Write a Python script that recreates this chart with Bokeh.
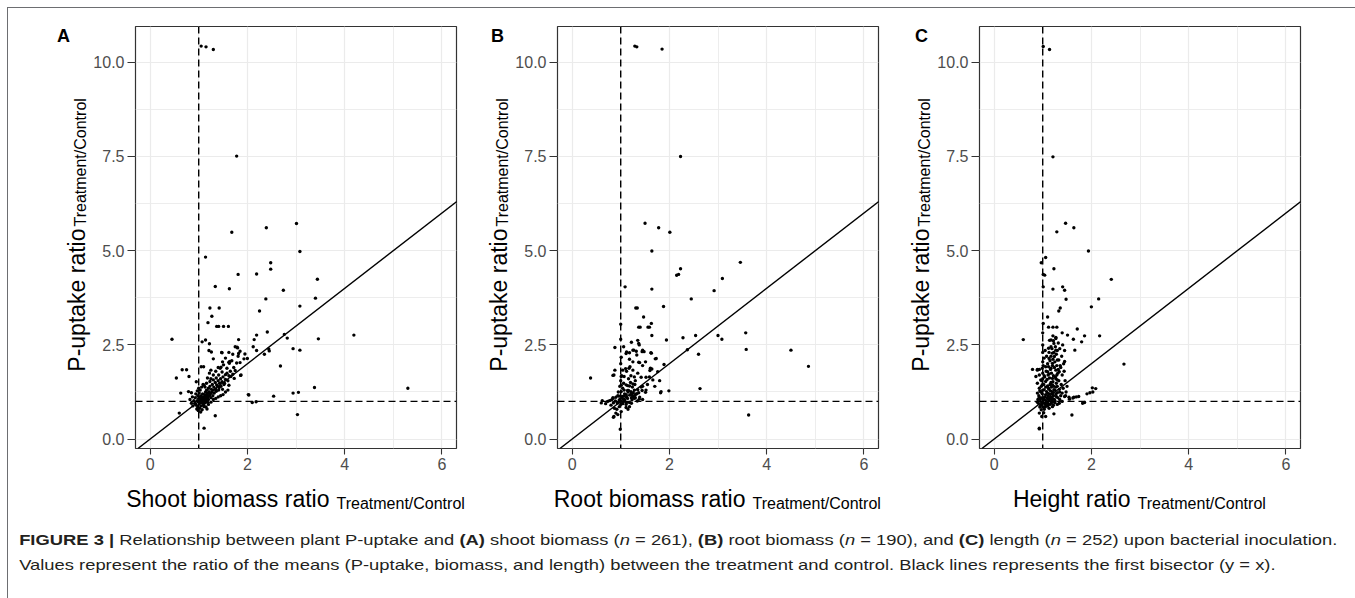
import math
from bokeh.plotting import figure
from bokeh.models import Span, Slope, Label, FixedTicker, Div, Range1d, CustomJSTickFormatter
from bokeh.layouts import row, column
from bokeh.embed import file_html
from bokeh.resources import INLINE

# ---------------- data (ratio Treatment/Control) ----------------
shoot_pts = [
    (1.05,10.43),(1.15,10.41),(1.30,10.34),(1.78,7.51),(1.68,5.49),(2.39,5.61),(3.01,5.72),(3.08,4.98),
    (1.14,4.83),(2.48,4.68),(2.48,4.51),(1.81,4.37),(2.19,4.38),(3.44,4.24),(1.34,4.05),(1.63,3.99),
    (2.74,3.95),(3.40,3.74),(2.38,3.72),(3.08,3.53),(1.23,3.48),(1.42,3.48),(2.25,3.40),(1.27,3.26),
    (1.19,3.09),(1.37,2.99),(1.41,2.99),(1.51,2.99),(1.61,2.99),(2.41,2.84),(2.19,2.76),(4.19,2.76),
    (2.76,2.78),(2.82,2.68),(3.46,2.66),(0.45,2.65),(1.82,2.64),(2.14,2.64),(1.07,2.58),(1.14,2.63),
    (1.22,2.53),(2.12,2.45),(1.80,2.42),(2.94,2.40),(3.08,2.36),(2.44,2.39),(2.19,2.35),(1.21,2.35),
    (1.26,2.31),(1.47,2.30),(1.95,2.26),(1.81,2.20),(2.35,2.25),(1.85,2.33),(1.93,2.13),(1.30,2.13),
    (1.64,2.06),(2.68,1.94),(1.78,2.02),(1.85,2.03),(1.05,1.92),(1.46,1.91),(0.66,1.84),(0.75,1.84),
    (1.86,1.69),(0.54,1.62),(0.80,1.66),(3.38,1.37),(5.30,1.35),(0.63,1.22),(0.79,1.26),(2.03,1.17),
    (2.54,1.14),(2.94,1.22),(3.05,1.24),(2.10,0.97),(2.18,0.99),(0.60,0.69),(3.03,0.65),(1.34,0.62),
    (1.11,0.29),
    (1.48,2.29),(1.79,2.44),(1.82,2.27),(2.00,2.14),(2.45,2.34),(1.49,2.05),(1.62,2.04),(1.68,2.08),
    (1.10,1.92),(1.25,1.83),(1.44,1.88),(1.51,1.97),(1.58,1.88),(1.63,2.01),(1.87,1.70),(1.48,1.78),
    (1.55,1.71),(1.41,1.70),(1.36,1.62),(1.30,1.57),(1.23,1.53),(1.66,1.66),(1.73,1.61),(1.16,1.48),
    (1.11,1.43),(1.37,1.44),(1.42,1.37),(1.53,1.48),(1.62,1.43),(1.49,1.32),(0.95,1.52),(0.85,1.23),
    (2.02,1.18),
    (0.88,0.88),(0.92,0.95),(0.95,0.90),(0.97,1.02),(0.98,0.85),(1.00,1.00),(1.00,1.08),(1.01,0.93),
    (1.02,1.12),(1.03,0.97),(1.04,1.05),(1.05,0.88),(1.05,1.15),(1.06,1.00),(1.07,1.10),(1.08,0.95),
    (1.08,1.20),(1.09,1.04),(1.10,1.12),(1.10,0.90),(1.11,1.00),(1.12,1.18),(1.12,1.07),(1.13,0.96),
    (1.14,1.25),(1.14,1.13),(1.15,1.03),(1.16,1.09),(1.16,1.30),(1.17,1.18),(1.18,0.98),(1.18,1.22),
    (1.19,1.12),(1.20,1.35),(1.20,1.05),(1.21,1.26),(1.22,1.15),(1.23,1.40),(1.24,1.20),(1.25,1.10),
    (1.26,1.32),(1.27,1.24),(1.28,1.45),(1.29,1.15),(1.30,1.30),(1.31,1.38),(1.32,1.22),(1.34,1.50),
    (1.35,1.33),(1.36,1.27),(1.38,1.42),(1.40,1.55),(1.41,1.30),(1.43,1.48),(1.45,1.60),(1.46,1.40),
    (1.48,1.52),(1.50,1.65),(1.52,1.45),(1.55,1.58),(1.58,1.75),(1.60,1.55),(1.62,1.68),(1.65,1.80),
    (1.70,1.72),(1.72,1.90),(1.75,1.82),(0.90,1.02),(0.93,1.10),(0.96,0.80),(0.99,0.76),(1.02,0.82),
    (1.04,0.72),(0.94,1.20),(0.97,1.28),(1.00,1.35),(1.03,1.30),(0.85,0.95),(0.82,1.05),(0.87,1.12),
    (1.06,1.38),(1.09,1.45),(1.13,1.38),(1.15,0.85),(1.20,0.92),(1.25,0.98),(1.30,1.05),(1.35,1.08),
    (1.40,1.12),(1.45,1.15),(1.50,1.18),(1.55,1.25),(1.60,1.30),(1.25,1.60),(1.30,1.70),(1.18,1.62),
    (1.22,1.75),(1.35,1.80),(1.40,1.90),(1.55,2.15),(1.70,2.25),(1.62,2.30),(1.75,2.45),(0.98,1.15),
    (1.01,1.22),(1.07,0.78),(1.11,0.86),(1.17,0.80),
]

root_pts = [
    (1.29,10.43),(1.33,10.41),(1.85,10.35),(2.23,7.50),(1.50,5.73),(1.78,5.61),(2.01,5.49),(1.64,4.99),
    (3.46,4.69),(2.23,4.52),(2.15,4.35),(2.19,4.37),(3.09,4.26),(1.09,4.04),(1.64,3.98),(2.92,3.94),
    (2.45,3.72),(1.88,3.52),(1.31,3.48),(1.34,3.48),(1.47,3.24),(1.63,3.07),(1.37,2.97),(1.40,2.97),
    (1.56,2.97),(1.59,2.97),(1.64,2.75),(2.54,2.75),(3.00,2.75),(3.08,2.65),(3.57,2.82),(2.28,2.69),
    (1.94,2.63),(1.22,2.57),(1.35,2.62),(1.37,2.54),(3.58,2.38),(4.50,2.36),(2.37,2.37),(2.60,2.25),
    (4.86,1.93),(0.38,1.62),(2.63,1.34),(1.99,1.28),(1.82,1.23),(3.63,0.64),(0.99,0.26),(0.86,0.60),
    (0.94,0.65),(0.88,2.43),(1.06,2.45),(1.01,2.17),(1.12,2.31),(1.18,2.29),(1.25,2.36),(1.32,2.33),
    (1.44,2.32),(1.48,2.32),(1.63,2.28),(1.18,2.12),(1.25,2.05),(1.37,2.04),(1.51,2.05),(1.71,2.13),
    (1.89,1.98),(0.88,1.83),(1.10,1.87),(1.12,1.80),(1.19,1.92),(1.25,1.83),(0.84,1.69),(1.02,1.68),
    (1.07,1.66),(1.42,1.64),(1.52,1.64),(1.60,1.82),(1.64,1.86),(1.76,1.79),(1.66,1.57),(1.80,1.55),
    (1.01,1.43),(1.06,1.48),(1.14,1.42),(1.24,1.38),(1.29,1.45),(1.35,1.31),(1.44,1.29),(1.16,1.29),
    (1.45,1.40),(1.51,1.24),(1.22,1.18),(1.29,1.16),(1.33,1.20),(1.11,1.18),(1.06,1.14),(0.97,1.14),
    (0.90,1.11),(0.84,1.10),(0.81,1.04),(0.62,1.02),(0.73,1.00),(0.89,1.01),(0.97,1.04),(1.06,1.06),
    (1.14,1.08),(1.22,1.10),(1.30,1.10),(1.38,1.06),(1.34,1.01),(0.93,0.96),(1.00,0.92),(1.11,0.92),
    (1.18,0.97),(0.92,0.79),(1.01,0.73),(1.15,0.79),
    (1.38,2.50),(1.45,2.36),(1.27,2.36),(1.11,2.27),(1.33,2.23),(1.62,2.29),(1.73,2.14),(1.39,2.03),
    (1.61,1.88),(0.86,1.70),(1.04,1.83),(1.17,1.88),(1.01,1.66),(1.21,1.68),(1.28,1.65),(1.59,1.65),
    (1.11,1.44),(1.18,1.41),(1.25,1.46),(1.42,1.38),(1.52,1.30),(1.83,1.26),(1.04,1.35),(1.01,1.26),
    (1.14,1.29),(1.21,1.26),(1.28,1.30),(1.37,1.23),(0.94,1.15),(1.03,1.13),(1.19,1.17),(1.25,1.13),
    (1.32,1.20),(1.39,1.11),(0.84,1.08),(0.99,1.06),(1.08,1.04),(1.23,1.04),(0.77,1.02),(0.85,0.96),
    (0.94,0.96),(1.04,0.94),(1.12,0.97),(0.60,0.96),(0.69,0.94),(0.87,0.82),(0.97,0.86),(1.11,0.84),
    (1.18,0.86),(0.85,0.58),(0.90,0.69),
    (1.00,1.00),(1.02,1.10),(1.08,1.20),(1.15,1.25),(1.20,1.50),(1.30,1.55),(0.95,1.25),(1.05,0.98),
    (1.12,1.12),(1.26,1.22),(1.16,1.60),(1.00,2.00),(1.00,1.55),(1.00,2.65),(1.00,3.05),(1.35,1.75),
    (1.45,1.95),(1.55,1.45),(1.70,1.40),(0.80,0.90),(0.98,1.40),(1.07,1.30),(1.22,0.95),(1.28,1.08),
    (1.45,1.05),
]

height_pts = [
    (1.01,10.42),(1.14,10.34),(1.21,7.49),(1.47,5.73),(1.64,5.61),(1.29,5.50),(1.94,4.99),(1.06,4.82),
    (0.97,4.68),(1.23,4.52),(1.01,4.37),(1.04,4.35),(2.41,4.24),(1.21,3.98),(1.41,4.04),(1.45,3.95),
    (1.48,3.71),(1.01,4.04),(2.15,3.72),(2.00,3.51),(1.36,3.48),(1.33,3.40),(1.10,3.24),(1.01,3.07),
    (1.12,2.97),(1.21,2.97),(1.29,2.97),(1.00,2.82),(1.40,2.82),(1.51,2.76),(1.71,2.92),(1.86,2.74),
    (2.17,2.74),(1.21,2.74),(1.63,2.65),(1.80,2.58),(0.60,2.64),(1.27,2.67),(1.14,2.62),(1.22,2.61),
    (1.66,2.36),(2.67,1.99),(1.45,2.06),(2.02,1.36),(2.09,1.34),(1.97,1.23),(1.91,1.20),(1.62,1.09),
    (1.69,1.12),(1.74,1.13),(1.45,1.13),(1.55,1.06),(1.82,0.95),(1.86,0.97),(1.60,0.64),(1.23,0.67),
    (0.93,0.27),(0.98,0.60),(0.79,1.85),(0.89,1.85),(0.93,1.85),
    (1.27,2.70),(1.17,2.63),(1.23,2.54),(1.17,2.45),(1.27,2.36),(1.12,2.41),(1.20,2.28),(1.24,2.19),
    (1.13,2.14),(1.30,2.10),(1.20,2.01),(1.06,1.92),(0.99,1.88),(1.17,1.88),(1.27,1.83),(1.34,1.79),
    (1.10,1.79),(0.89,1.83),(0.93,1.70),(1.03,1.68),(1.13,1.73),(1.20,1.61),(1.30,1.57),(0.86,1.66),
    (0.96,1.57),(1.06,1.53),(1.17,1.50),(0.89,1.48),(0.99,1.44),(1.10,1.41),(1.20,1.44),(1.27,1.38),
    (0.93,1.35),(1.03,1.31),(1.13,1.32),(1.23,1.31),(1.34,1.32),(0.89,1.22),(0.99,1.20),(1.10,1.22),
    (1.20,1.20),(1.30,1.23),(1.40,1.22),(0.93,1.11),(1.01,1.08),(1.12,1.06),(1.20,1.08),(1.28,1.13),
    (1.37,1.15),(1.47,1.15),(1.54,1.11),(1.64,1.11),(2.03,1.25),(0.89,0.98),(0.98,0.97),(1.08,0.98),
    (1.17,0.95),(1.25,0.97),(1.34,0.95),(0.94,0.85),(1.03,0.79),(1.13,0.82),(1.20,0.86),(0.93,0.69),
    (0.93,0.29),
    (1.00,1.00),(1.02,1.05),(1.04,1.12),(1.05,0.92),(1.06,1.18),(1.07,1.02),(1.08,1.26),(1.09,1.10),
    (1.10,0.95),(1.11,1.15),(1.12,1.35),(1.13,1.02),(1.14,1.20),(1.15,1.45),(1.15,1.08),(1.16,1.28),
    (1.17,1.12),(1.18,1.38),(1.19,1.00),(1.20,1.25),(1.21,1.52),(1.22,1.15),(1.23,1.40),(1.24,1.05),
    (1.25,1.30),(1.26,1.65),(1.27,1.20),(1.28,1.48),(1.29,1.70),(1.30,1.40),(1.31,1.10),(1.32,1.85),
    (1.33,1.55),(1.35,1.25),(1.36,1.95),(1.38,1.45),(1.40,1.70),(1.42,1.35),(1.44,1.80),(1.46,1.55),
    (1.48,1.25),(1.50,1.40),(0.95,1.05),(0.96,1.25),(0.97,1.40),(0.98,1.55),(0.99,1.10),(1.00,1.30),
    (1.00,1.60),(1.00,1.75),(1.00,2.05),(1.00,2.30),(1.00,2.50),(1.01,1.95),(1.02,1.45),(1.03,2.15),
    (1.04,1.65),(1.05,2.35),(1.06,1.38),(1.07,1.80),(1.08,2.20),(1.09,1.58),(1.10,2.00),(1.11,1.70),
    (1.12,1.92),(1.13,2.30),(1.14,1.62),(1.15,2.08),(1.16,1.85),(1.17,2.20),(1.18,1.75),(1.19,2.40),
    (1.20,1.95),(1.21,2.12),(1.22,1.68),(1.23,2.30),(1.24,1.90),(1.25,2.05),(1.26,2.45),(1.27,1.60),
    (1.28,2.25),(1.29,1.95),(1.30,2.35),(1.31,1.75),(1.32,2.55),(1.33,2.10),(1.35,2.40),(1.37,1.90),
    (1.39,2.20),(1.41,2.50),(1.43,2.00),(1.45,2.35),(1.05,0.85),(1.10,0.88),(1.15,0.92),(1.20,0.98),
    (1.25,1.02),(1.30,0.92),(1.35,1.05),(1.40,1.00),(0.90,1.05),(0.92,1.15),(0.94,1.28),(0.96,0.90),
    (0.97,0.78),(1.02,0.70),(1.06,0.60),(0.91,0.95),(1.00,0.85),(1.04,0.95),(1.08,0.88),(1.12,0.92),
    (1.18,1.05),(1.22,0.90),
]

panel_letters = ["A", "B", "C"]
x_titles = ["Shoot biomass ratio", "Root biomass ratio", "Height ratio"]
y_title = "P-uptake ratio"
sub_title = "Treatment/Control"
x_ticks = [0, 2, 4, 6]
x_minor = [1, 3, 5]
y_ticks = [0, 2.5, 5, 7.5, 10]
y_minor = [1.25, 3.75, 6.25, 8.75]
reference_line = 1.0

FONT = "Liberation Sans"
XR = (-0.3, 6.3)
YR = (-0.25, 10.95)
FRAME_W = 321
FRAME_H = 422
TOP = 18
BOTTOM = 80


def make_panel(pts, letter, xtitle, left, right, letter_dx, join_dx):
    xs = [p[0] for p in pts]
    ys = [p[1] for p in pts]
    w = left + FRAME_W + right
    h = TOP + FRAME_H + BOTTOM
    p = figure(width=w, height=h, output_backend="svg", toolbar_location=None,
               x_range=Range1d(*XR), y_range=Range1d(*YR),
               min_border_left=left, min_border_right=right,
               min_border_top=TOP, min_border_bottom=BOTTOM)
    p.background_fill_color = "white"
    p.border_fill_color = "white"
    p.outline_line_color = "#333333"
    p.outline_line_width = 1.2

    p.xaxis.ticker = FixedTicker(ticks=x_ticks, minor_ticks=x_minor)
    p.yaxis.ticker = FixedTicker(ticks=y_ticks, minor_ticks=y_minor)
    p.yaxis.formatter = CustomJSTickFormatter(code="return tick.toFixed(1);")
    for ax in (p.xaxis[0], p.yaxis[0]):
        ax.axis_line_color = None
        ax.major_tick_line_color = "#333333"
        ax.major_tick_line_width = 1.1
        ax.major_tick_in = 0
        ax.minor_tick_out = 0
        ax.minor_tick_in = 0
        ax.major_label_text_font = FONT
        ax.major_label_text_font_size = "16px"
        ax.major_label_text_color = "#4D4D4D"
        ax.major_label_standoff = 3
    p.xaxis.major_tick_out = 6
    p.yaxis.major_tick_out = 8
    for g in (p.xgrid[0], p.ygrid[0]):
        g.grid_line_color = "#EBEBEB"
        g.grid_line_width = 1.2
        g.minor_grid_line_color = "#EBEBEB"
        g.minor_grid_line_width = 0.9

    p.add_layout(Span(location=reference_line, dimension="height", line_color="black",
                      line_dash="7 4", line_width=1.4))
    p.add_layout(Span(location=reference_line, dimension="width", line_color="black",
                      line_dash="7 4", line_width=1.4))
    p.add_layout(Slope(gradient=1, y_intercept=0, line_color="black", line_width=1.4))
    p.scatter(xs, ys, size=3.4, color="black", line_color=None)

    # x-axis title (main + subscript) in the bottom side panel
    p.add_layout(Label(x=XR[0], y=YR[0], x_offset=join_dx, y_offset=-50, text=xtitle,
                       text_align="right", text_baseline="alphabetic", text_font=FONT,
                       text_font_size="23px", text_color="black"), "below")
    p.add_layout(Label(x=XR[0], y=YR[0], x_offset=join_dx + 7, y_offset=-55, text=sub_title,
                       text_align="left", text_baseline="alphabetic", text_font=FONT,
                       text_font_size="16px", text_color="black"), "below")
    # y-axis title (main + subscript), rotated, in the left side panel
    p.add_layout(Label(x=XR[0], y=YR[0], x_offset=-59, y_offset=220, text=y_title,
                       text_align="right", text_baseline="alphabetic", angle=math.pi / 2,
                       text_font=FONT, text_font_size="23px", text_color="black"), "left")
    p.add_layout(Label(x=XR[0], y=YR[0], x_offset=-55, y_offset=222, text=sub_title,
                       text_align="left", text_baseline="alphabetic", angle=math.pi / 2,
                       text_font=FONT, text_font_size="16px", text_color="black"), "left")
    # panel letter (kept in the narrow right panel, drawn at the top-left)
    p.add_layout(Label(x=XR[0], y=YR[1], x_offset=letter_dx, y_offset=-9, text=letter,
                       text_align="center", text_baseline="middle", text_font=FONT,
                       text_font_size="18px", text_font_style="bold", text_color="black"), "right")
    return p


pA = make_panel(shoot_pts, panel_letters[0], x_titles[0], 127, 13, -72, 194)
pB = make_panel(root_pts, panel_letters[1], x_titles[1], 88, 13, -60, 188)
pC = make_panel(height_pts, panel_letters[2], x_titles[2], 88, 20, -58, 151)

caption = Div(text=(
    "<div style=\"font-family:'Liberation Sans',sans-serif;font-size:15px;line-height:25px;"
    "color:#231f20;white-space:nowrap;transform:scaleX(1.225);transform-origin:0 0;"
    "margin-top:-6px;padding:0 0 0 5px;\">"
    "<b>FIGURE 3 |</b> Relationship between plant P-uptake and <b>(A)</b> shoot biomass (<i>n</i> = 261), "
    "<b>(B)</b> root biomass (<i>n</i> = 190), and <b>(C)</b> length (<i>n</i> = 252) upon bacterial inoculation.<br>"
    "Values represent the ratio of the means (P-uptake, biomass, and length) between the treatment and control. "
    "Black lines represents the first bisector (y = x).</div>"),
    width=1344, height=62)

layout = column(row(pA, pB, pC), caption, margin=(7, 0, 0, 7),
                styles={"border-top": "1px solid #6d6e71", "border-left": "1px solid #6d6e71"})
open("out.html", "w").write(file_html(layout, INLINE))
